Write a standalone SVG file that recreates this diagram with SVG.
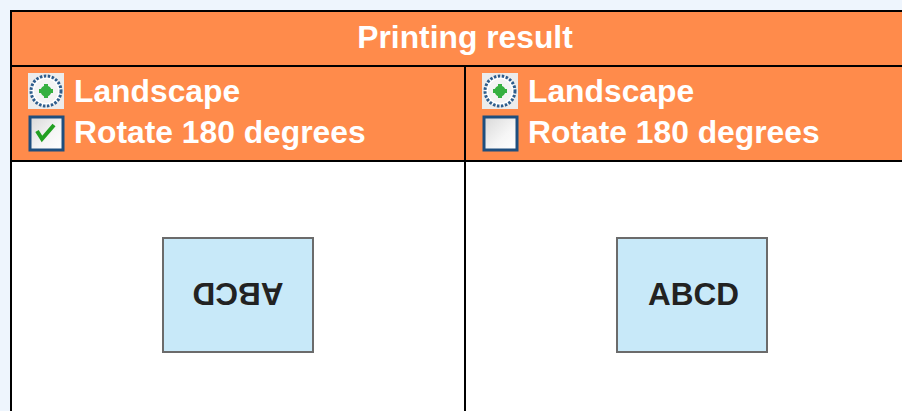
<svg xmlns="http://www.w3.org/2000/svg" width="902" height="411" viewBox="0 0 902 411">
  <style>
    .hdr { fill: #FF8B4B; }
    .line { stroke: #000; stroke-width: 2; fill: none; }
    .lbl { font-family: "Liberation Sans", Arial, sans-serif; font-weight: bold; font-size: 31.8px; fill: #FFFFFF; }
    .abcd { font-family: "Liberation Sans", Arial, sans-serif; font-weight: bold; font-size: 31.5px; fill: #222222; text-anchor: middle; }
    .page { fill: #C8E9F9; stroke: #6B6B6B; stroke-width: 2; }
    .rbg { fill: #ECECEC; }
    .rring { fill: #FFFFFF; stroke: #2E5D8C; stroke-width: 3; stroke-dasharray: 2.5 1.5; }
    .rdot { fill: #35B040; }
    .cbox { fill: url(#cg); stroke: #1E4E7E; stroke-width: 3; }
    .tick { fill: none; stroke: #22A022; stroke-width: 4; stroke-linejoin: miter; }
  </style>
  <defs>
    <linearGradient id="cg" x1="0" y1="0" x2="1" y2="1">
      <stop offset="0" stop-color="#D8D8D8"/>
      <stop offset="0.6" stop-color="#F6F6F6"/>
      <stop offset="1" stop-color="#FFFFFF"/>
    </linearGradient>
    <g id="radio">
      <rect class="rbg" x="-18" y="-18" width="36" height="36"/>
      <circle class="rring" cx="0" cy="0" r="15"/>
      <circle cx="0" cy="0" r="12" fill="#F4F4F4"/>
      <circle class="rdot" cx="0" cy="0" r="5.5"/>
      <rect class="rdot" x="-2" y="-7" width="4" height="14"/>
      <rect class="rdot" x="-7" y="-2" width="14" height="4"/>
    </g>
  </defs>

  <rect x="0" y="0" width="902" height="411" fill="#EEF5FD"/>

  <g id="table">
    <rect x="11" y="11" width="891" height="150" class="hdr"/>
    <rect x="11" y="161" width="891" height="250" fill="#FFFFFF"/>
  </g>

  <g id="title">
    <text class="lbl" x="465" y="48" text-anchor="middle">Printing result</text>
  </g>

  <g id="left-options">
    <use href="#radio" x="46" y="91"/>
    <text class="lbl" x="74" y="102">Landscape</text>
    <rect class="cbox" x="30" y="117" width="33" height="33"/>
    <polyline class="tick" points="37,131 42,139 54,125"/>
    <text class="lbl" x="74" y="143">Rotate 180 degrees</text>
  </g>

  <g id="right-options">
    <use href="#radio" x="500" y="91"/>
    <text class="lbl" x="528" y="102">Landscape</text>
    <rect class="cbox" x="484" y="117" width="33" height="33"/>
    <text class="lbl" x="528" y="143">Rotate 180 degrees</text>
  </g>

  <g id="left-page">
    <rect class="page" x="163" y="238" width="150" height="114"/>
    <text class="abcd" x="238" y="305" transform="rotate(180 238 294)">ABCD</text>
  </g>

  <g id="right-page">
    <rect class="page" x="617" y="238" width="150" height="114"/>
    <text class="abcd" x="693.5" y="305">ABCD</text>
  </g>

  <g id="connectors">
    <line class="line" x1="10" y1="11" x2="902" y2="11"/>
    <line class="line" x1="11" y1="10" x2="11" y2="411"/>
    <line class="line" x1="10" y1="66" x2="902" y2="66"/>
    <line class="line" x1="10" y1="161" x2="902" y2="161"/>
    <line class="line" x1="465" y1="66" x2="465" y2="411"/>
  </g>
</svg>
